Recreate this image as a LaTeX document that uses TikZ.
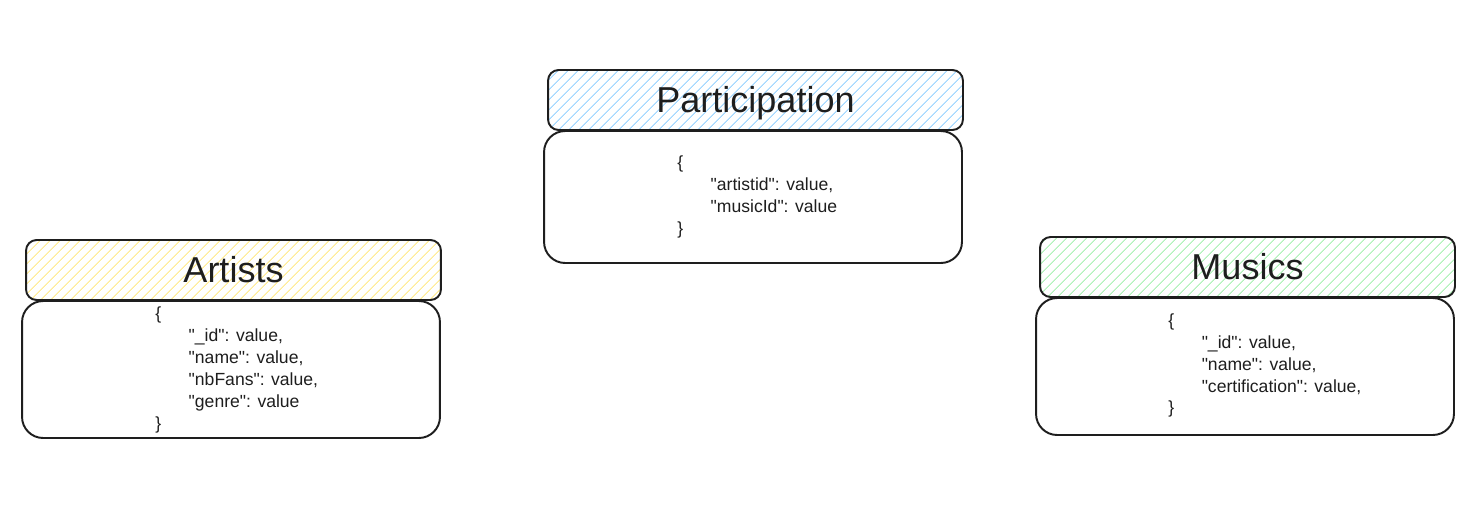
\documentclass[tikz,border=0pt]{standalone}
\usepackage{fontspec}
\setmainfont{Liberation Sans}[Ligatures=TeXOff]
\usepackage{tikz}
\usetikzlibrary{positioning, patterns.meta}

\definecolor{ink}{HTML}{1E1E1E}
\definecolor{hatchblue}{HTML}{A5D8FF}
\definecolor{hatchyellow}{HTML}{FFEC99}
\definecolor{hatchgreen}{HTML}{B2F2BB}

\tikzset{
    headbox/.style={draw=ink, line width=1.1pt, rounded corners=6pt,
        pattern={Lines[angle=45, distance=4pt, line width=0.6pt]}, pattern color=#1,
        minimum width=8.3cm, minimum height=1.2cm, inner sep=0pt,
        text height=17pt, text depth=3.2pt,
        font=\fontsize{20.5}{24}\selectfont, text=ink},
    bodybox/.style={draw=ink, line width=1.1pt, rounded corners=12pt,
        fill=white, minimum width=8.36cm, minimum height=#1, inner sep=0pt},
    doc/.style={anchor=west, align=left, inner sep=0pt, text=ink,
        font=\fontsize{10}{12.5}\selectfont}
}
\newcommand{\fld}{\hspace*{19pt}}

\begin{document}
\begin{tikzpicture}[x=0.02cm, y=-0.02cm]
\useasboundingbox (0,0) rectangle (1483,511);
% Collections (header + body)
\foreach \nm/\ttl/\col/\hx/\hy/\bx/\by/\bh in {
    part/Participation/hatchblue/755.5/100/753/197/2.64cm,
    art/Artists/hatchyellow/233.5/270/231/369.5/2.74cm,
    mus/Musics/hatchgreen/1247.5/267/1245/366.5/2.74cm} {
    \node[bodybox=\bh] (\nm body) at (\bx,\by) {};
    \node[headbox=\col] (\nm head) at (\hx,\hy) {\ttl};
}
% Documents
\node[doc] (partdoc) at (677,197) {\{\\
    \fld"artistid": value,\\
    \fld"musicId": value\\
    \}};
\node[doc] (artdoc) at (155,370) {\{\\
    \fld"\_id": value,\\
    \fld"name": value,\\
    \fld"nbFans": value,\\
    \fld"genre": value\\
    \}};
\node[doc] (musdoc) at (1168,365.5) {\{\\
    \fld"\_id": value,\\
    \fld"name": value,\\
    \fld"certification": value,\\
    \}};
\end{tikzpicture}
\end{document}
